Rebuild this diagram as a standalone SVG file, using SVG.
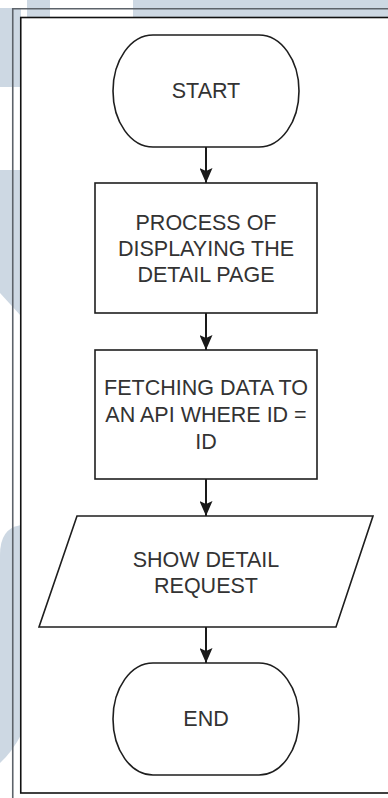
<svg xmlns="http://www.w3.org/2000/svg" width="388" height="798" viewBox="0 0 388 798">
  <defs>
    <style>
      .wm { fill: #cdd8e3; stroke: none; }
      .node { fill: #ffffff; stroke: #1e1e1e; stroke-width: 1.6; }
      .lbl { font-family: "Liberation Sans", Arial, sans-serif; font-size: 21.5px; fill: #333333; text-anchor: middle; }
      .edge { fill: none; stroke: #1a1a1a; stroke-width: 2; }
    </style>
    <marker id="arrow" viewBox="0 0 15 13" refX="15" refY="6.5" markerWidth="15" markerHeight="13" markerUnits="userSpaceOnUse" orient="auto">
      <path d="M0,0 L15,6.5 L0,13 L3,6.5 z" fill="#1a1a1a"/>
    </marker>
  </defs>

  <!-- background and watermark -->
  <rect x="0" y="0" width="388" height="798" fill="#ffffff"/>
  <g id="watermark">
    <rect class="wm" x="0" y="8" width="21" height="79"/>
    <rect class="wm" x="27" y="0" width="23" height="17"/>
    <rect class="wm" x="133" y="0" width="255" height="17"/>
    <path class="wm" d="M0,170 L21,170 L21,316 L0,293 z"/>
    <path class="wm" d="M0,555 Q0,528 21,525 L21,735 Q12,752 0,763 z"/>
  </g>

  <!-- frames -->
  <g id="frames">
    <path d="M12.75,798 L12.75,8.75 L388,8.75" fill="none" stroke="#5d636a" stroke-width="1.6"/>
    <rect x="20.75" y="17.5" width="380" height="775.5" fill="#ffffff" stroke="#111111" stroke-width="1.6"/>
  </g>

  <!-- connectors -->
  <g id="connectors">
    <line class="edge" x1="206" y1="147" x2="206" y2="183" marker-end="url(#arrow)"/>
    <line class="edge" x1="206" y1="313" x2="206" y2="350" marker-end="url(#arrow)"/>
    <line class="edge" x1="206" y1="479" x2="206" y2="516" marker-end="url(#arrow)"/>
    <line class="edge" x1="206" y1="627" x2="206" y2="663" marker-end="url(#arrow)"/>
  </g>

  <!-- nodes -->
  <g id="start">
    <rect class="node" x="113" y="35" width="186" height="112" rx="40" ry="56"/>
    <text class="lbl" x="206" y="98">START</text>
  </g>

  <g id="process-detail-page">
    <rect class="node" x="95" y="183" width="222" height="130"/>
    <text class="lbl" x="206" y="230">PROCESS OF</text>
    <text class="lbl" x="206" y="256">DISPLAYING THE</text>
    <text class="lbl" x="206" y="282">DETAIL PAGE</text>
  </g>

  <g id="fetch-data">
    <rect class="node" x="95" y="350" width="222" height="129"/>
    <text class="lbl" x="206" y="395">FETCHING DATA TO</text>
    <text class="lbl" x="206" y="422">AN API WHERE ID =</text>
    <text class="lbl" x="206" y="449">ID</text>
  </g>

  <g id="show-detail">
    <path class="node" d="M77,516 L373,516 L336,627 L39,627 z"/>
    <text class="lbl" x="206" y="567">SHOW DETAIL</text>
    <text class="lbl" x="206" y="593">REQUEST</text>
  </g>

  <g id="end">
    <rect class="node" x="113" y="663" width="186" height="112" rx="40" ry="56"/>
    <text class="lbl" x="206" y="726">END</text>
  </g>
</svg>
